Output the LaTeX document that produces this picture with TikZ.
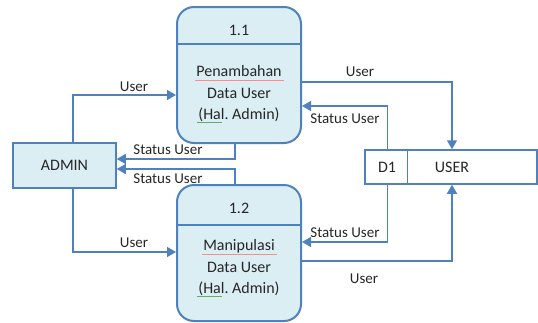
\documentclass[tikz,border=0pt]{standalone}
\usepackage{fontspec}
\setmainfont{Carlito}
\usepackage{tikz}
\usetikzlibrary{positioning}
\usetikzlibrary{arrows.meta}
\usetikzlibrary{calc}
\definecolor{dfdblue}{RGB}{79,129,189}
\definecolor{dfdfill}{RGB}{219,238,244}
\definecolor{dfdtext}{RGB}{38,38,38}
\tikzset{proc node/.style={draw=dfdblue,fill=dfdfill,line width=2pt,rounded corners=17pt,minimum width=124pt,minimum height=136pt,inner sep=0pt},
         ent node/.style={draw=dfdblue,fill=dfdfill,line width=1.5pt,minimum width=103pt,minimum height=45pt,inner sep=0pt,font=\fontsize{16}{19}\selectfont},
         store node/.style={draw=dfdblue,fill=white,line width=1.5pt,minimum width=172pt,minimum height=34pt,inner sep=0pt},
         flow/.style={draw=dfdblue,line width=1.5pt,-{Triangle[width=10pt,length=9pt]}},
         lbl/.style={font=\fontsize{15}{18}\selectfont,inner sep=0pt},
         ptxt/.style={align=center,font=\fontsize{16}{21.5}\selectfont,inner sep=0pt},
         spell/.style={line width=0.5pt}}

\begin{document}
\begin{tikzpicture}[x=1pt,y=-1pt,color=dfdtext]
	\useasboundingbox (0,0) rectangle (538,322);
	% processes
	\node[proc node] (p1) at (239,75) {};
	\node[proc node] (p2) at (239,253) {};
	\draw[dfdblue,line width=1.5pt] ($(p1.north west)+(0,38)$) -- ($(p1.north east)+(0,38)$);
	\draw[dfdblue,line width=1.5pt] ($(p2.north west)+(0,41)$) -- ($(p2.north east)+(0,41)$);
	\node[ptxt] (p1id) at (239,30) {1.1};
	\node[ptxt] (p2id) at (239,208) {1.2};
	\node[ptxt] (p1txt) at (239,94) {Penambahan\\Data User\\(Hal.\ Admin)};
	\node[ptxt] (p2txt) at (239,268) {Manipulasi\\Data User\\(Hal.\ Admin)};
	% spell check marks
	\draw[spell,red!45] (195,80) -- (284,80);
	\draw[spell,red!45] (202,254) -- (277,254);
	\draw[spell,green!45!black!60] (197,122) -- (222,122);
	\draw[spell,green!45!black!60] (197,296) -- (222,296);
	% entity and store
	\node[ent node] (admin) at (64.5,165.5) {ADMIN};
	\node[store node] (store) at (451,167) {};
	\draw[dfdblue,line width=1.5pt] ($(store.north west)+(43,0)$) -- ($(store.south west)+(43,0)$);
	\node[ptxt] (d1) at (387,167) {D1};
	\node[ptxt] (usr) at (452,167) {USER};

	% flows
	\path[flow] ($(admin.north)+(8.5,0)$) |- ($(p1.west)+(0,20)$);
	\path[flow] ($(admin.south)+(8.5,0)$) |- ($(p2.west)+(0,-1)$);
	\path[flow] ($(p1.south)+(-4,0)$) |- ($(admin.east)+(0,-6.5)$);
	\path[flow] ($(p2.north)+(-4,0)$) |- ($(admin.east)+(0,3.5)$);
	\path[flow] ($(p1.east)+(0,7)$) -| ($(store.north)+(1,0)$);
	\path[flow] ($(store.north west)+(23,0)$) |- ($(p1.east)+(0,31)$);
	\path[flow] ($(store.south west)+(23,0)$) |- ($(p2.east)+(0,-11)$);
	\path[flow] ($(p2.east)+(0,8)$) -| ($(store.south)+(1,0)$);

	% labels
	\node[lbl] (l1) at (134,87) {User};
	\node[lbl] (l2) at (134,243) {User};
	\node[lbl] (l3) at (168,150) {Status User};
	\node[lbl] (l4) at (168,179) {Status User};
	\node[lbl] (l5) at (360,72) {User};
	\node[lbl] (l6) at (345,119) {Status User};
	\node[lbl] (l7) at (345,233) {Status User};
	\node[lbl] (l8) at (364,279) {User};
\end{tikzpicture}
\end{document}
